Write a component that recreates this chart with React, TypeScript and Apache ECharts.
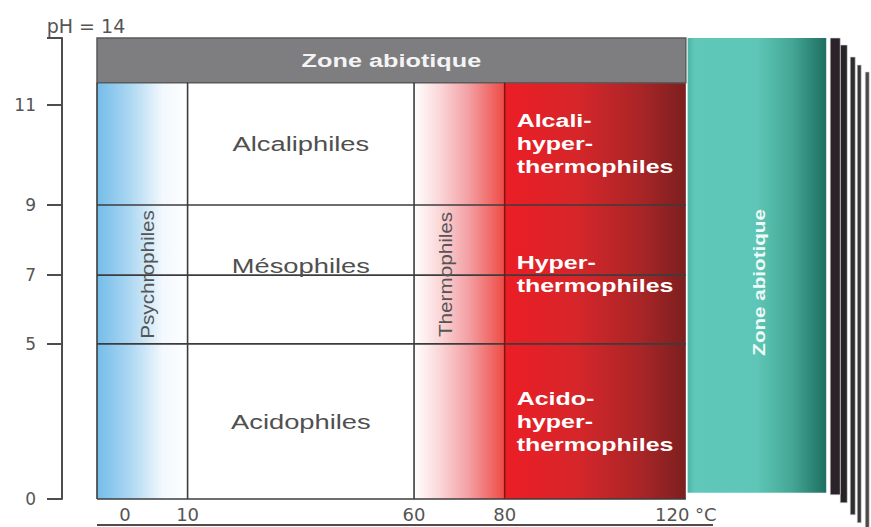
import React, { useEffect, useRef } from 'react';
import * as echarts from 'echarts';

// ---------- data ----------
const TEMP_TICKS = [0, 10, 60, 80, 120];
const TEMP_UNIT = '°C';
const PH_TICKS = [0, 5, 7, 9, 11];
const PH_TOP = 14;
const PH_NAME = 'pH';

const TEMP_MIN = -10;
const TEMP_BIOTIC_MAX = 120;
const PH_ABIOTIC = 12;

// rectangular zones
const ZONE_KIND = ['psychro', 'meso', 'thermo', 'hyper', 'abioticPh', 'abioticT'];
const ZONE_T_FROM = [-10, 10, 60, 80, -10, 120.4];
const ZONE_T_TO = [10, 60, 80, 120, 120, 151];
const ZONE_PH_FROM = [0, 0, 0, 0, 12, 0.2];
const ZONE_PH_TO = [12, 12, 12, 12, 14, 14];

// pH classes
const PH_CLASS_LABELS = ['Acidophiles', 'Mésophiles', 'Alcaliphiles'];
const HYPER_LABELS = ['Acido-\nhyper-\nthermophiles', 'Hyper-\nthermophiles', 'Alcali-\nhyper-\nthermophiles'];
const PH_CLASS_FROM = [0, 5, 9];
const PH_CLASS_TO = [5, 9, 12];

// temperature classes written vertically
const TEMP_CLASS_LABELS = ['Psychrophiles', 'Thermophiles'];
const TEMP_CLASS_FROM = [-10, 60];
const TEMP_CLASS_TO = [10, 80];

const ABIOTIC_LABEL = 'Zone abiotique';

const PH_BOUNDS = [5, 7, 9];
const TEMP_BOUNDS = [10, 60];
const HYPER_BOUND = 80;

// ---------- axis scales (piecewise, as drawn in the figure) ----------
const PH_SCALE_IN = [0, 5, 7, 9, 11, 14];
const PH_SCALE_OUT = [0, 4.71, 6.8, 8.93, 11.96, 14];
const T_SCALE_IN = [-10, 0, 10, 160];
const T_SCALE_OUT = [-10, -3.8, 10, 160];

function interp(v: number, xs: number[], ys: number[]) {
  for (let i = 0; i < xs.length - 1; i++) {
    if (v <= xs[i + 1] || i === xs.length - 2) {
      const t = (v - xs[i]) / (xs[i + 1] - xs[i]);
      return ys[i] + t * (ys[i + 1] - ys[i]);
    }
  }
  return ys[0];
}
const tx = (t: number) => interp(t, T_SCALE_IN, T_SCALE_OUT);
const py = (p: number) => interp(p, PH_SCALE_IN, PH_SCALE_OUT);

// ---------- styles ----------
const FONT = '"Liberation Sans", Arial, sans-serif';
const AXIS_FONT = '"DejaVu Sans", sans-serif';
const LINE_COLOR = '#3c3c3c';

const grad = (stops: [number, string][]) =>
  new echarts.graphic.LinearGradient(0, 0, 1, 0, stops.map(([offset, color]) => ({ offset, color })));

const ZONE_STYLE: Record<string, any> = {
  psychro: { fill: grad([[0, '#74bde9'], [0.35, '#a9d6f2'], [0.72, '#f2f8fd'], [1, '#ffffff']]) },
  meso: { fill: '#ffffff' },
  thermo: { fill: grad([[0, '#ffffff'], [0.3, '#fad4d6'], [0.6, '#f3a0a4'], [0.85, '#f06a68'], [1, '#ee4b45']]) },
  hyper: { fill: grad([[0, '#ec1d25'], [0.4, '#d6262a'], [0.75, '#a92527'], [1, '#7c1f1f']]) },
  abioticPh: { fill: '#7e7e80', stroke: '#5a5a5a', lineWidth: 1.5 },
  abioticT: { fill: grad([[0, '#4db4a5'], [0.05, '#60c8b8'], [0.5, '#5ec6b6'], [0.75, '#45a796'], [1, '#1d6f61']]) },
};

// decorative stacked edges behind the abiotic block: [dx0, dx1, dTop, dBottom, color]
const STACK_LAYERS: [number, number, number, number, string][] = [
  [4, 14, 0, 2, '#2b2329'],
  [14, 21, 7, 10, '#262424'],
  [24, 29, 19, 22, '#2e2e2e'],
  [31, 35, 27, 30, '#383838'],
  [39, 43, 34, 37, '#4a4a4a'],
];

const MID_LABEL_DY = [0, -9, 0];
const VERT_LABEL_DX = [5, -14];

export default function App() {
  const ref = useRef<HTMLDivElement>(null);

  useEffect(() => {
    if (!ref.current) return;
    const chart = echarts.init(ref.current, null, { renderer: 'svg' });

    const zoneData = ZONE_KIND.map((_, i) => [
      tx(ZONE_T_FROM[i]), tx(ZONE_T_TO[i]), py(ZONE_PH_FROM[i]), py(ZONE_PH_TO[i]),
    ]);

    const segs: number[][] = [
      ...PH_BOUNDS.map((p) => [tx(TEMP_MIN), py(p), tx(TEMP_BIOTIC_MAX), py(p), 0]),
      ...TEMP_BOUNDS.map((t) => [tx(t), py(0), tx(t), py(PH_ABIOTIC), 0]),
      [tx(HYPER_BOUND), py(0), tx(HYPER_BOUND), py(PH_ABIOTIC), 1],
      [tx(TEMP_MIN), py(0), tx(TEMP_MIN), py(PH_ABIOTIC), 0],
      [tx(TEMP_MIN), py(0), tx(TEMP_BIOTIC_MAX), py(0), 0],
    ];

    const midData = PH_CLASS_LABELS.map((_, i) => [
      (tx(TEMP_BOUNDS[0]) + tx(TEMP_BOUNDS[1])) / 2,
      (py(PH_CLASS_FROM[i]) + py(PH_CLASS_TO[i])) / 2,
    ]);
    const hyperData = HYPER_LABELS.map((_, i) => [
      tx(HYPER_BOUND),
      (py(PH_CLASS_FROM[i]) + py(PH_CLASS_TO[i])) / 2,
    ]);
    const vertData = TEMP_CLASS_LABELS.map((_, i) => [
      (tx(TEMP_CLASS_FROM[i]) + tx(TEMP_CLASS_TO[i])) / 2,
      (py(PH_BOUNDS[0]) + py(PH_BOUNDS[2])) / 2,
    ]);
    const headerData = [[(tx(TEMP_MIN) + tx(TEMP_BIOTIC_MAX)) / 2, (py(PH_ABIOTIC) + py(PH_TOP)) / 2]];
    const tealData = [[(tx(ZONE_T_FROM[5]) + tx(ZONE_T_TO[5])) / 2, (py(ZONE_PH_FROM[5]) + py(ZONE_PH_TO[5])) / 2]];

    const yTickPos = PH_TICKS.map(py);
    const xTickPos = TEMP_TICKS.map(tx);

    const option: any = {
      animation: false,
      backgroundColor: '#ffffff',
      grid: { left: 97, right: 4, top: 38, bottom: 28 },
      xAxis: {
        type: 'value',
        min: tx(TEMP_MIN),
        max: 160,
        axisLine: { show: false, onZero: false },
        axisTick: { show: false },
        splitLine: { show: false },
        axisLabel: {
          customValues: xTickPos,
          margin: 6,
          color: '#555',
          fontSize: 18,
          fontFamily: AXIS_FONT,
          formatter: (v: number) => {
            const i = xTickPos.findIndex((p) => Math.abs(p - v) < 1e-6);
            if (i < 0) return '';
            return i === TEMP_TICKS.length - 1 ? `${TEMP_TICKS[i]} ${TEMP_UNIT}` : String(TEMP_TICKS[i]);
          },
        },
      },
      yAxis: {
        type: 'value',
        min: 0,
        max: py(PH_TOP),
        offset: 35,
        axisLine: { show: true, onZero: false, lineStyle: { color: '#4d4d4d', width: 2 } },
        axisTick: {
          show: true,
          customValues: [...PH_TICKS, PH_TOP].map(py),
          length: 15,
          lineStyle: { color: '#4d4d4d', width: 2 },
        },
        axisLabel: {
          customValues: yTickPos,
          margin: 26,
          color: '#555',
          fontSize: 17,
          fontFamily: AXIS_FONT,
          formatter: (v: number) => {
            const i = yTickPos.findIndex((p) => Math.abs(p - v) < 1e-6);
            return i < 0 ? '' : String(PH_TICKS[i]);
          },
        },
        splitLine: { show: false },
        name: `${PH_NAME} = ${PH_TOP}`,
        nameLocation: 'end',
        nameGap: 3,
        nameTextStyle: {
          color: '#555',
          fontSize: 19,
          fontFamily: AXIS_FONT,
          align: 'center',
          padding: [0, 0, 0, 48],
        },
      },
      series: [
        {
          type: 'custom',
          name: 'zones',
          clip: false,
          data: zoneData,
          encode: { x: [0, 1], y: [2, 3] },
          renderItem: (params: any, api: any) => {
            const kind = ZONE_KIND[params.dataIndex];
            const a = api.coord([api.value(0), api.value(3)]);
            const b = api.coord([api.value(1), api.value(2)]);
            const x = a[0], y = a[1], w = b[0] - a[0], h = b[1] - a[1];
            const rect = { type: 'rect', shape: { x, y, width: w, height: h }, style: ZONE_STYLE[kind] };
            if (kind === 'abioticT') {
              const children: any[] = [];
              STACK_LAYERS.slice().reverse().forEach(([dx0, dx1, dt, db, color]) => {
                children.push({
                  type: 'rect',
                  shape: { x: x + w + dx0, y: y + dt, width: dx1 - dx0, height: h - dt + db },
                  style: { fill: color, stroke: '#d8d8d8', lineWidth: 0.6 },
                });
              });
              children.push(rect);
              return { type: 'group', children };
            }
            return rect;
          },
        },
        {
          type: 'custom',
          name: 'bounds',
          clip: false,
          data: segs,
          encode: { x: [0, 2], y: [1, 3] },
          renderItem: (params: any, api: any) => {
            const a = api.coord([api.value(0), api.value(1)]);
            const b = api.coord([api.value(2), api.value(3)]);
            const special = api.value(4) === 1;
            return {
              type: 'line',
              shape: { x1: a[0], y1: a[1], x2: b[0], y2: b[1] },
              style: { stroke: special ? '#7a1616' : LINE_COLOR, lineWidth: special ? 1.5 : 1.6 },
            };
          },
        },
        {
          type: 'custom',
          name: 'axisUnderline',
          clip: false,
          data: [[tx(TEMP_MIN), 0, 126, 0]],
          encode: { x: [0, 2], y: [1, 3] },
          renderItem: (params: any, api: any) => {
            const a = api.coord([api.value(0), api.value(1)]);
            const b = api.coord([api.value(2), api.value(3)]);
            return {
              type: 'line',
              shape: { x1: a[0], y1: a[1] + 26, x2: b[0], y2: b[1] + 26 },
              style: { stroke: '#4d4d4d', lineWidth: 2 },
            };
          },
        },
        {
          type: 'custom',
          name: 'phClasses',
          clip: false,
          data: midData,
          encode: { x: 0, y: 1 },
          renderItem: (params: any, api: any) => {
            const p = api.coord([api.value(0), api.value(1)]);
            return {
              type: 'text',
              x: p[0],
              y: p[1] + MID_LABEL_DY[params.dataIndex],
              scaleX: 1.3,
              style: {
                text: PH_CLASS_LABELS[params.dataIndex],
                fill: '#505050',
                fontSize: 21,
                fontFamily: FONT,
                align: 'center',
                verticalAlign: 'middle',
              },
            };
          },
        },
        {
          type: 'custom',
          name: 'hyperClasses',
          clip: false,
          data: hyperData,
          encode: { x: 0, y: 1 },
          renderItem: (params: any, api: any) => {
            const p = api.coord([api.value(0), api.value(1)]);
            return {
              type: 'text',
              x: p[0] + 12,
              y: p[1],
              scaleX: 1.35,
              style: {
                text: HYPER_LABELS[params.dataIndex],
                fill: '#ffffff',
                fontSize: 18.5,
                fontWeight: 'bold',
                fontFamily: FONT,
                lineHeight: 23,
                align: 'left',
                verticalAlign: 'middle',
              },
            };
          },
        },
        {
          type: 'custom',
          name: 'tempClasses',
          clip: false,
          data: vertData,
          encode: { x: 0, y: 1 },
          renderItem: (params: any, api: any) => {
            const p = api.coord([api.value(0), api.value(1)]);
            return {
              type: 'text',
              x: p[0] + VERT_LABEL_DX[params.dataIndex],
              y: p[1],
              rotation: Math.PI / 2,
              scaleX: 1.15,
              style: {
                text: TEMP_CLASS_LABELS[params.dataIndex],
                fill: '#555',
                fontSize: 18,
                fontFamily: FONT,
                align: 'center',
                verticalAlign: 'middle',
              },
            };
          },
        },
        {
          type: 'custom',
          name: 'header',
          clip: false,
          data: headerData,
          encode: { x: 0, y: 1 },
          renderItem: (params: any, api: any) => {
            const p = api.coord([api.value(0), api.value(1)]);
            return {
              type: 'text',
              x: p[0],
              y: p[1],
              scaleX: 1.33,
              style: {
                text: ABIOTIC_LABEL,
                fill: '#f4f4f4',
                fontSize: 19,
                fontWeight: 'bold',
                fontFamily: FONT,
                align: 'center',
                verticalAlign: 'middle',
              },
            };
          },
        },
        {
          type: 'custom',
          name: 'tealLabel',
          clip: false,
          data: tealData,
          encode: { x: 0, y: 1 },
          renderItem: (params: any, api: any) => {
            const p = api.coord([api.value(0), api.value(1)]);
            return {
              type: 'text',
              x: p[0] + 2,
              y: p[1] + 17,
              rotation: Math.PI / 2,
              scaleX: 1.25,
              style: {
                text: ABIOTIC_LABEL,
                fill: '#eefaf7',
                fontSize: 16.5,
                fontWeight: 'bold',
                fontFamily: FONT,
                align: 'center',
                verticalAlign: 'middle',
              },
            };
          },
        },
      ],
    };

    chart.setOption(option);
    return () => chart.dispose();
  }, []);

  return (
    <div
      ref={ref}
      style={{ position: 'fixed', left: 0, top: 0, width: 871, height: 527, background: '#fff' }}
    />
  );
}
